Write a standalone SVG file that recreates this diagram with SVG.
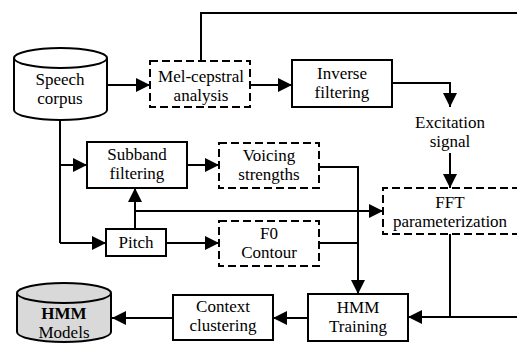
<svg xmlns="http://www.w3.org/2000/svg" width="517" height="348" viewBox="0 0 517 348">
<defs>
<marker id="ah" markerWidth="14" markerHeight="14" refX="14" refY="7" orient="auto" markerUnits="userSpaceOnUse">
<path d="M0,0 L14,7 L0,14 Z" fill="#000"/>
</marker>
<style>
text{font-family:'Liberation Serif','Times New Roman',Times,'DejaVu Serif',serif;font-size:17px;fill:#000;text-anchor:middle}
.b{fill:#fff;stroke:#000;stroke-width:2}
.d{fill:#fff;stroke:#000;stroke-width:2;stroke-dasharray:8,4}
.c{fill:none;stroke:#000;stroke-width:2}
.a{fill:none;stroke:#000;stroke-width:2;marker-end:url(#ah)}
</style>
</defs>
<rect width="517" height="348" fill="#fff"/>
<g id="connectors">
<polyline class="c" points="201,61 201,13 517,13"/>
<line class="a" x1="107" y1="85" x2="150" y2="85"/>
<line class="a" x1="250" y1="85" x2="292" y2="85"/>
<polyline class="a" points="392,83 450,83 450,107"/>
<line class="a" x1="450" y1="153" x2="450" y2="188"/>
<polyline class="c" points="60,120 60,243"/>
<line class="a" x1="60" y1="165" x2="87" y2="165"/>
<line class="a" x1="60" y1="243" x2="106" y2="243"/>
<line class="a" x1="187" y1="165" x2="219" y2="165"/>
<line class="a" x1="166" y1="243" x2="219" y2="243"/>
<line class="a" x1="135" y1="229" x2="135" y2="188"/>
<line class="a" x1="135" y1="211" x2="383" y2="211"/>
<polyline class="a" points="319,167 358,167 358,294"/>
<line class="c" x1="319" y1="243" x2="358" y2="243"/>
<polyline class="c" points="450,234 450,317"/>
<line class="a" x1="517" y1="317" x2="408" y2="317"/>
<line class="a" x1="308" y1="318" x2="273" y2="318"/>
<line class="a" x1="173" y1="318" x2="112" y2="318"/>
</g>
<g id="speech-corpus">
<path class="b" d="M14,58 L14,110 A46.5,10 0 0 0 107,110 L107,58"/>
<ellipse class="b" cx="60.5" cy="58" rx="46.5" ry="10"/>
<text x="60" y="85">Speech</text>
<text x="60" y="104">corpus</text>
</g>
<g id="mel-cepstral">
<rect class="d" x="150" y="61" width="100" height="46"/>
<text x="201" y="82">Mel-cepstral</text>
<text x="201" y="101">analysis</text>
</g>
<g id="inverse-filtering">
<rect class="b" x="292" y="60" width="100" height="47"/>
<text x="342" y="79">Inverse</text>
<text x="342" y="98">filtering</text>
</g>
<g id="excitation-signal">
<text x="450" y="128">Excitation</text>
<text x="450" y="147">signal</text>
</g>
<g id="subband-filtering">
<rect class="b" x="87" y="142" width="100" height="46"/>
<text x="137" y="160">Subband</text>
<text x="137" y="179">filtering</text>
</g>
<g id="voicing-strengths">
<rect class="d" x="219" y="143" width="100" height="45"/>
<text x="269" y="161">Voicing</text>
<text x="269" y="180">strengths</text>
</g>
<g id="fft-parameterization">
<path class="d" d="M520,188 L383,188 L383,234 L520,234"/>
<text x="450" y="208">FFT</text>
<text x="450" y="227">parameterization</text>
</g>
<g id="pitch">
<rect class="b" x="106" y="229" width="60" height="27"/>
<text x="136" y="248">Pitch</text>
</g>
<g id="f0-contour">
<rect class="d" x="219" y="221" width="100" height="45"/>
<text x="269" y="239">F0</text>
<text x="269" y="258">Contour</text>
</g>
<g id="hmm-training">
<rect class="b" x="308" y="294" width="100" height="47"/>
<text x="358" y="313">HMM</text>
<text x="358" y="332">Training</text>
</g>
<g id="context-clustering">
<rect class="b" x="173" y="295" width="100" height="45"/>
<text x="223" y="312">Context</text>
<text x="223" y="331">clustering</text>
</g>
<g id="hmm-models">
<path class="b" style="fill:#d9d9d9" d="M17,293 L17,332 A47,10 0 0 0 111,332 L111,293"/>
<ellipse class="b" style="fill:#d9d9d9" cx="64" cy="293" rx="47" ry="10"/>
<text x="64" y="319" style="font-weight:bold">HMM</text>
<text x="64" y="338">Models</text>
</g>
</svg>
